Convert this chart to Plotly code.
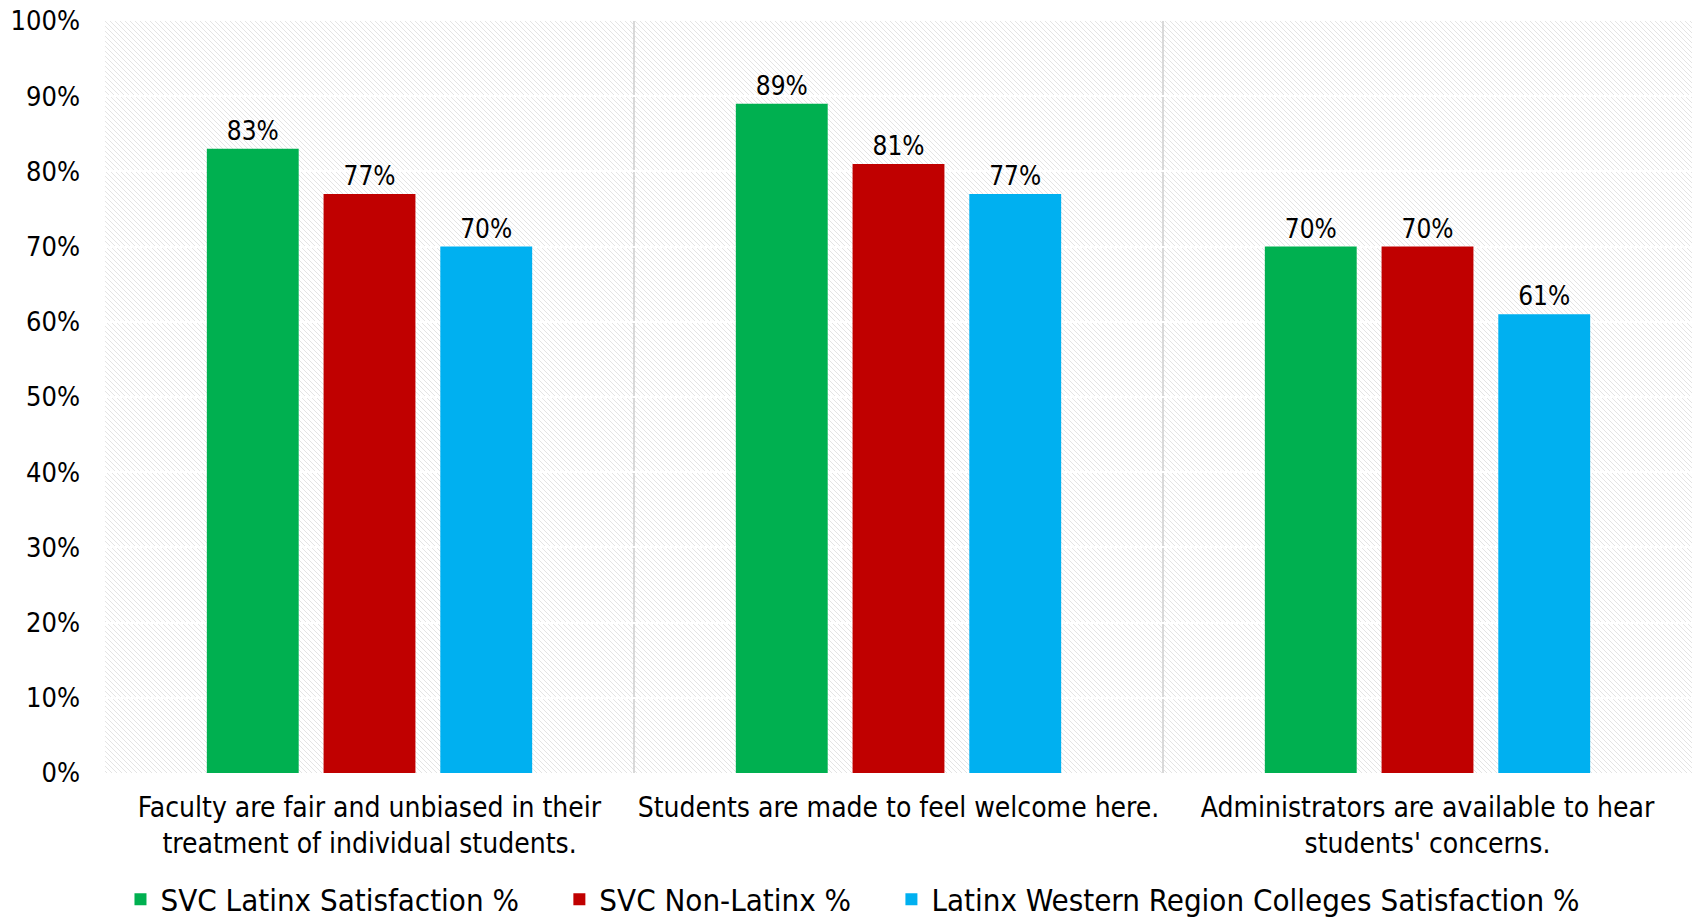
"""Satisfaction survey: grouped bars on a hatched plot background."""

import base64

import plotly.graph_objects as go

CATEGORIES = [
    "Faculty are fair and unbiased in their<br>treatment of individual students.",
    "Students are made to feel welcome here.",
    "Administrators are available to hear<br>students' concerns.",
]
SERIES_NAMES = [
    "SVC Latinx Satisfaction %",
    "SVC Non-Latinx %",
    "Latinx Western Region Colleges Satisfaction %",
]
SVC_LATINX = [0.83, 0.89, 0.70]
SVC_NON_LATINX = [0.77, 0.81, 0.70]
WESTERN_REGION = [0.70, 0.77, 0.61]
COLORS = ["#00B050", "#C00000", "#00B0F0"]
Y_TICKS = [i / 10 for i in range(11)]

FONT = "DejaVu Sans Condensed, sans-serif"

W, H = 1694, 917
M = dict(l=105, r=2, t=21, b=144)
PW, PH = W - M["l"] - M["r"], H - M["t"] - M["b"]

# diagonal hatch for the plot background, drawn as an inline svg image
hatch_svg = f"""<svg xmlns="http://www.w3.org/2000/svg" width="{PW}" height="{PH}">
<defs><pattern id="h" patternUnits="userSpaceOnUse" width="5" height="5">
<rect width="5" height="5" fill="#ffffff"/>
<path d="M-1,-1 L6,6 M-1,4 L1,6 M4,-1 L6,1" stroke="#e4e4e4" stroke-width="1"/>
</pattern></defs>
<rect width="{PW}" height="{PH}" fill="url(#h)"/></svg>"""
hatch_uri = "data:image/svg+xml;base64," + base64.b64encode(hatch_svg.encode()).decode()

pad = "\u00a0" * 4
fig = go.Figure()
for i, (name, vals, color) in enumerate(
    zip(SERIES_NAMES, [SVC_LATINX, SVC_NON_LATINX, WESTERN_REGION], COLORS)
):
    fig.add_trace(
        go.Bar(
            x=CATEGORIES,
            y=vals,
            name=name + (pad if i < 2 else ""),
            marker=dict(color=color, line=dict(width=0)),
            text=[f"{v:.0%}" for v in vals],
            textposition="outside",
            textfont=dict(size=26, color="#000000", family=FONT),
            cliponaxis=False,
        )
    )

fig.add_layout_image(
    source=hatch_uri,
    xref="paper",
    yref="paper",
    x=0,
    y=1,
    sizex=1,
    sizey=1,
    sizing="stretch",
    xanchor="left",
    yanchor="top",
    layer="below",
)

fig.update_layout(
    width=W,
    height=H,
    margin=M,
    barmode="group",
    bargap=0.338,
    bargroupgap=0.213,
    paper_bgcolor="#ffffff",
    plot_bgcolor="rgba(0,0,0,0)",
    font=dict(family=FONT, color="#000000"),
    showlegend=True,
    legend=dict(
        orientation="h",
        x=0.471,
        xanchor="center",
        yref="container",
        y=0.019,
        yanchor="middle",
        font=dict(size=31, family=FONT),
        itemwidth=30,
        traceorder="normal",
    ),
)
fig.update_yaxes(
    range=[0, 1],
    tickvals=Y_TICKS,
    tickformat=".0%",
    tickfont=dict(size=27),
    showgrid=True,
    gridcolor="#ffffff",
    gridwidth=2,
    zeroline=False,
    showline=False,
    ticklabelstandoff=24,
    automargin=False,
)
fig.update_xaxes(
    tickfont=dict(size=28),
    tickangle=0,
    showgrid=True,
    tickson="boundaries",
    gridcolor="#d9d9d9",
    gridwidth=2,
    ticks="",
    showline=False,
    ticklabelstandoff=15,
    automargin=False,
)

# drop the default body margin so the figure fills the window exactly
fig.write_html(
    "out.html",
    config={"displayModeBar": False},
    post_script="document.body.style.margin = '0';",
)
